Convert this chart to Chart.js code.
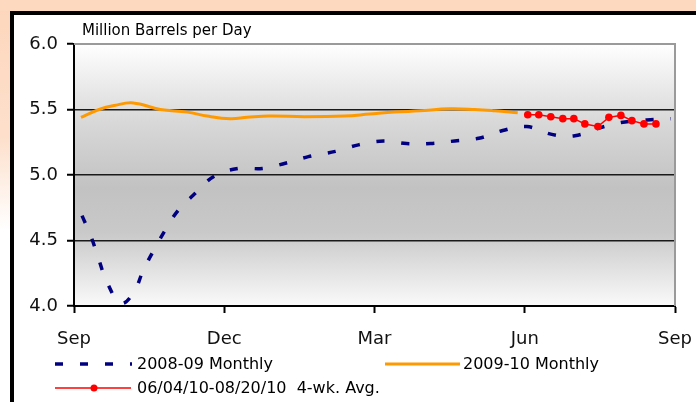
<!DOCTYPE html>
<html>
<head>
<meta charset="utf-8">
<script src="https://cdn.jsdelivr.net/npm/chart.js@4/dist/chart.umd.min.js"></script>
<style>
  html, body { margin: 0; padding: 0; background: #fff; }
  canvas { display: block; }
</style>
</head>
<body>
<canvas id="supplyChart" width="696" height="402"></canvas>
<script>
// x values are months after 1 Sep (0 = Sep, 12 = next Sep)
const monthTicks = ["Sep", "Dec", "Mar", "Jun", "Sep"];
const yTicks = [4.0, 4.5, 5.0, 5.5, 6.0];

const monthly0809X = [0.16, 0.34, 0.5, 0.66, 0.94, 1.2, 1.38, 1.6, 1.84, 2.08, 2.42, 2.8, 3.28, 3.76, 4.22, 4.68, 5.22, 5.68, 6.18, 6.64, 7.12, 7.6, 8.08, 8.56, 9.04, 9.54, 10.0, 10.5, 10.92, 11.44, 11.92];
const monthly0809 = [4.69, 4.53, 4.35, 4.18, 4.02, 4.11, 4.27, 4.43, 4.59, 4.73, 4.86, 4.99, 5.05, 5.05, 5.09, 5.14, 5.18, 5.23, 5.26, 5.24, 5.24, 5.26, 5.28, 5.34, 5.37, 5.31, 5.30, 5.36, 5.40, 5.42, 5.43];

const monthly0910X = [0.14, 0.5, 0.8, 1.18, 1.72, 2.26, 2.66, 3.12, 3.46, 3.9, 4.6, 5.4, 5.9, 6.4, 6.9, 7.5, 8.0, 8.4, 8.86];
const monthly0910 = [5.44, 5.5, 5.53, 5.55, 5.5, 5.48, 5.45, 5.43, 5.44, 5.45, 5.445, 5.45, 5.465, 5.48, 5.49, 5.505, 5.5, 5.49, 5.475];

const weeklyX = [9.06, 9.28, 9.52, 9.76, 9.98, 10.2, 10.46, 10.68, 10.92, 11.14, 11.38, 11.62];
const weekly4wk = [5.46, 5.46, 5.445, 5.43, 5.43, 5.39, 5.37, 5.44, 5.455, 5.415, 5.39, 5.39];

function pairs(xs, ys) {
  return xs.map((x, i) => ({ x: x, y: ys[i] }));
}

const FONT = "'DejaVu Sans', sans-serif";

const framePlugin = {
  id: "frame",
  beforeDraw(chart) {
    const c = chart.ctx;
    const W = chart.width, H = chart.height;
    const a = chart.chartArea;
    c.save();
    // peach surround
    const peach = c.createLinearGradient(0, 0, 0, 230);
    peach.addColorStop(0, "#fdd6bc");
    peach.addColorStop(0.6, "#fde0cc");
    peach.addColorStop(1, "#ffffff");
    c.fillStyle = "#ffffff";
    c.fillRect(0, 0, W, H);
    c.fillStyle = peach;
    c.fillRect(0, 0, 10, H);
    c.fillStyle = "#fdd9c0";
    c.fillRect(0, 0, W, 11);
    // black frame
    c.fillStyle = "#000";
    c.fillRect(10, 11, W - 10, 4);
    c.fillRect(10, 11, 4, H - 11);
    // plot background
    const g = c.createLinearGradient(0, a.top, 0, a.bottom);
    g.addColorStop(0, "#ffffff");
    g.addColorStop(0.3, "#d8d8d8");
    g.addColorStop(0.55, "#c2c2c2");
    g.addColorStop(0.72, "#c9c9c9");
    g.addColorStop(1, "#fafafa");
    c.fillStyle = g;
    c.fillRect(a.left, a.top, a.right - a.left, a.bottom - a.top);
    c.restore();
  },
  afterDatasetsDraw(chart) {
    const c = chart.ctx;
    const a = chart.chartArea;
    c.save();
    c.strokeStyle = "#9a9a9a";
    c.lineWidth = 2;
    c.beginPath();
    c.moveTo(a.left, a.top);
    c.lineTo(a.right, a.top);
    c.lineTo(a.right, a.bottom);
    c.stroke();
    c.restore();
  },
  afterDraw(chart) {
    const c = chart.ctx;
    const ds = chart.data.datasets;
    c.save();
    c.fillStyle = "#000";
    c.font = "15px " + FONT;
    c.textBaseline = "alphabetic";
    c.fillText("Million Barrels per Day", 82, 35);

    c.font = "16px " + FONT;
    c.textBaseline = "middle";
    // 2008-09 Monthly
    c.strokeStyle = ds[0].borderColor;
    c.lineWidth = 3.5;
    c.setLineDash([8, 17]);
    c.beginPath(); c.moveTo(55, 364); c.lineTo(132, 364); c.stroke();
    c.setLineDash([]);
    c.fillText(ds[0].label, 137, 365);
    // 2009-10 Monthly
    c.strokeStyle = ds[1].borderColor;
    c.lineWidth = 3;
    c.beginPath(); c.moveTo(385, 364); c.lineTo(460, 364); c.stroke();
    c.fillText(ds[1].label, 463, 365);
    // 4-wk avg
    c.strokeStyle = ds[2].borderColor;
    c.lineWidth = 1.5;
    c.beginPath(); c.moveTo(55, 388); c.lineTo(131, 388); c.stroke();
    c.fillStyle = ds[2].borderColor;
    c.beginPath(); c.arc(94, 388, 3.5, 0, Math.PI * 2); c.fill();
    c.fillStyle = "#000";
    c.fillText(ds[2].label, 137, 389);
    c.restore();
  }
};

new Chart(document.getElementById("supplyChart"), {
  type: "line",
  data: {
    datasets: [
      {
        label: "2008-09 Monthly",
        data: pairs(monthly0809X, monthly0809),
        borderColor: "#000080",
        borderWidth: 3.5,
        borderDash: [8, 17],
        borderCapStyle: "butt",
        pointRadius: 0,
        tension: 0.4,
        order: 3
      },
      {
        label: "2009-10 Monthly",
        data: pairs(monthly0910X, monthly0910),
        borderColor: "#ff9900",
        borderWidth: 3,
        pointRadius: 0,
        tension: 0.4,
        order: 2
      },
      {
        label: "06/04/10-08/20/10  4-wk. Avg.",
        data: pairs(weeklyX, weekly4wk),
        borderColor: "#ff0000",
        backgroundColor: "#ff0000",
        borderWidth: 1.5,
        pointRadius: 3.8,
        pointBorderWidth: 0,
        tension: 0,
        order: 1
      }
    ]
  },
  options: {
    responsive: false,
    animation: false,
    devicePixelRatio: 1,
    layout: { padding: { top: 44, right: 21, left: 0, bottom: 0 } },
    plugins: {
      legend: { display: false },
      tooltip: { enabled: false }
    },
    scales: {
      x: {
        type: "linear",
        min: 0,
        max: 12,
        afterFit: (s) => { s.height = 96; s.paddingLeft = 0; s.paddingRight = 0; },
        afterBuildTicks: (s) => { s.ticks = monthTicks.map((_, i) => ({ value: i * 3 })); },
        ticks: {
          callback: (v) => monthTicks[v / 3],
          font: { family: FONT, size: 18 },
          color: "#111",
          padding: 16,
          maxRotation: 0
        },
        grid: { drawOnChartArea: false, tickLength: 7, tickColor: "#000", tickWidth: 2 },
        border: { color: "#000", width: 2 }
      },
      y: {
        min: 4,
        max: 6,
        afterFit: (s) => { s.width = 74; s.paddingTop = 0; s.paddingBottom = 0; },
        afterBuildTicks: (s) => { s.ticks = yTicks.map((v) => ({ value: v })); },
        ticks: {
          callback: (v) => v.toFixed(1),
          font: { family: FONT, size: 18 },
          color: "#111",
          padding: 9
        },
        grid: {
          color: (ctx) => (ctx.tick && (ctx.tick.value === 4 || ctx.tick.value === 6)) ? "rgba(0,0,0,0)" : "#1a1a1a",
          lineWidth: 1.5,
          tickLength: 7,
          tickColor: "#000",
          tickWidth: 2
        },
        border: { color: "#000", width: 2 }
      }
    }
  },
  plugins: [framePlugin]
});
</script>
</body>
</html>
